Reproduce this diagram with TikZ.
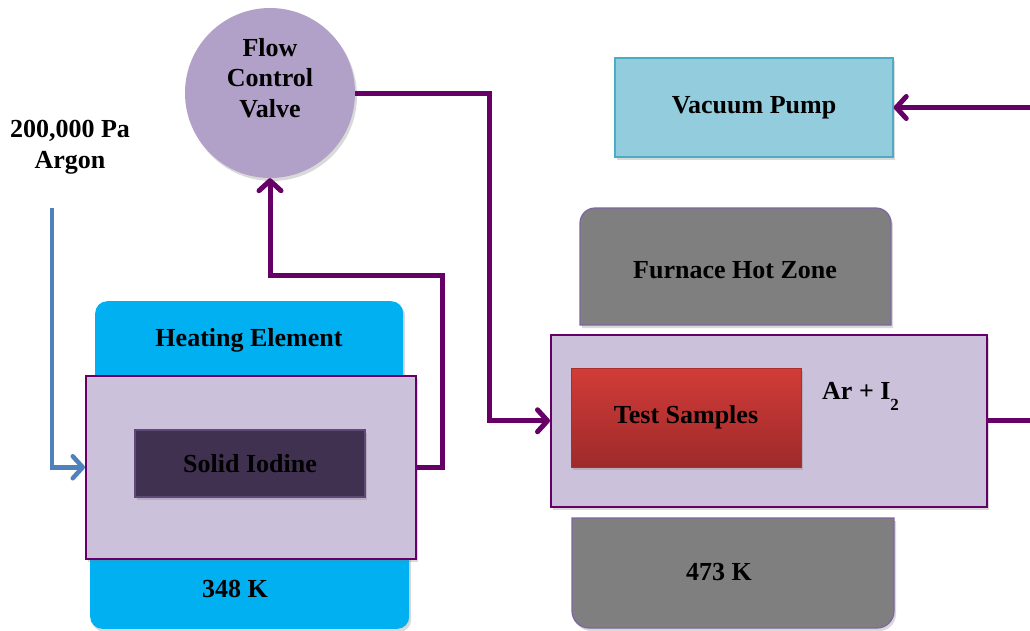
\documentclass[tikz,border=0pt]{standalone}
\usepackage{fontspec}
\setmainfont{Liberation Serif}
\definecolor{PipePurple}{RGB}{102,0,102}
\definecolor{ArgonBlue}{RGB}{79,129,189}
\definecolor{ValveLilac}{RGB}{177,160,199}
\definecolor{ChamberLilac}{RGB}{204,193,218}
\definecolor{HeaterCyan}{RGB}{0,176,240}
\definecolor{IodineDark}{RGB}{64,49,81}
\definecolor{IodineEdge}{RGB}{95,73,122}
\definecolor{PumpBlue}{RGB}{147,205,221}
\definecolor{PumpEdge}{RGB}{75,172,198}
\definecolor{FurnaceGrey}{RGB}{127,127,127}
\definecolor{FurnaceEdge}{RGB}{128,100,162}
\definecolor{SampleTop}{RGB}{210,60,56}
\definecolor{SampleBot}{RGB}{158,42,43}
\usetikzlibrary{arrows.meta, shadows, positioning}

\begin{document}
\begin{tikzpicture}[x=1pt, y=-1pt,
    lbl/.style={font=\fontsize{26}{30.5}\selectfont\bfseries, align=center, inner sep=0pt},
    softshadow/.style={drop shadow={opacity=0.3, shadow xshift=2pt, shadow yshift=-3pt}},
    heater/.style={fill=HeaterCyan, rounded corners=12pt, softshadow},
    furnace/.style={fill=FurnaceGrey, draw=FurnaceEdge, line width=1.2pt, softshadow},
    chamber/.style={fill=ChamberLilac, draw=PipePurple, line width=1.5pt, softshadow},
    pipe/.style={draw=PipePurple, line width=5pt, -{Straight Barb[length=10pt, width=22pt, round]}},
    argonpipe/.style={draw=ArgonBlue, line width=4.5pt, -{Straight Barb[length=10pt, width=22pt, round]}}]

  \useasboundingbox (0,0) rectangle (1030,630);

  % heaters (their hidden ends sit under the iodine chamber)
  \node[heater, minimum width=308pt, minimum height=110pt, anchor=north west] (heattop) at (95,301) {};
  \node[heater, minimum width=319pt, minimum height=100pt, anchor=south west] (heatbot) at (90,629) {};

  % furnace shells, rounded on the outer side only
  \draw[furnace] (580,325) -- (580,223) arc[start angle=180, end angle=270, radius=15]
    -- (876,208) arc[start angle=270, end angle=360, radius=15] -- (891,325) -- cycle;
  \draw[furnace] (572,518) -- (572,611) arc[start angle=180, end angle=90, radius=17]
    -- (877,628) arc[start angle=90, end angle=0, radius=17] -- (894,518) -- cycle;

  % chambers
  \node[chamber, minimum width=330pt, minimum height=183pt, anchor=north west] (iodbox) at (85,375) {};
  \node[chamber, minimum width=436pt, minimum height=172pt, anchor=north west] (testbox) at (550,334) {};

  \node[lbl] (heattxt) at (249,340) {Heating Element};
  \node[lbl] (heatK) at (235,589) {348 K};
  \node[lbl] (hotztxt) at (735,270) {Furnace Hot Zone};
  \node[lbl] (hotK) at (719,572) {473 K};

  \node[fill=IodineDark, draw=IodineEdge, line width=1.2pt, minimum width=230pt, minimum height=67pt,
        softshadow, lbl] (iodine) at (250,463.5) {Solid Iodine};
  \node[top color=SampleTop, bottom color=SampleBot, draw=SampleTop!80!black, line width=1pt,
        minimum width=230pt, minimum height=99pt, softshadow, lbl] (samples) at (686,417.5) {Test Samples};
  \node[lbl, anchor=west] (gasmix) at (822,396) {Ar + I\raisebox{-11pt}{\fontsize{17}{17}\selectfont 2}};

  \node[fill=PumpBlue, draw=PumpEdge, line width=1.5pt, minimum width=278pt, minimum height=99pt,
        softshadow, lbl] (pump) at (754,107.5) {Vacuum Pump};

  \node[circle, fill=ValveLilac, minimum size=170pt, softshadow] (valve) at (270,93) {};
  \node[lbl] (valvetxt) at (270,78) {Flow\\Control\\Valve};

  \node[lbl] (argon) at (70,147) {200,000 Pa\\Argon};

  % gas lines
  \coordinate (argonfeed) at (52,208);
  \coordinate (bendA) at (442,275);
  \coordinate (bendB) at (489,300);
  \coordinate (offright) at (1045,300);

  \draw[argonpipe] (argonfeed) |- (iodbox.west);
  \draw[pipe] (iodbox.east) -| (bendA) -| (valve.south);
  \draw[pipe] (valve.east) -| (bendB) |- (testbox.west);
  \draw[pipe] (testbox.east) -| (offright) |- (pump.east);
\end{tikzpicture}
\end{document}
